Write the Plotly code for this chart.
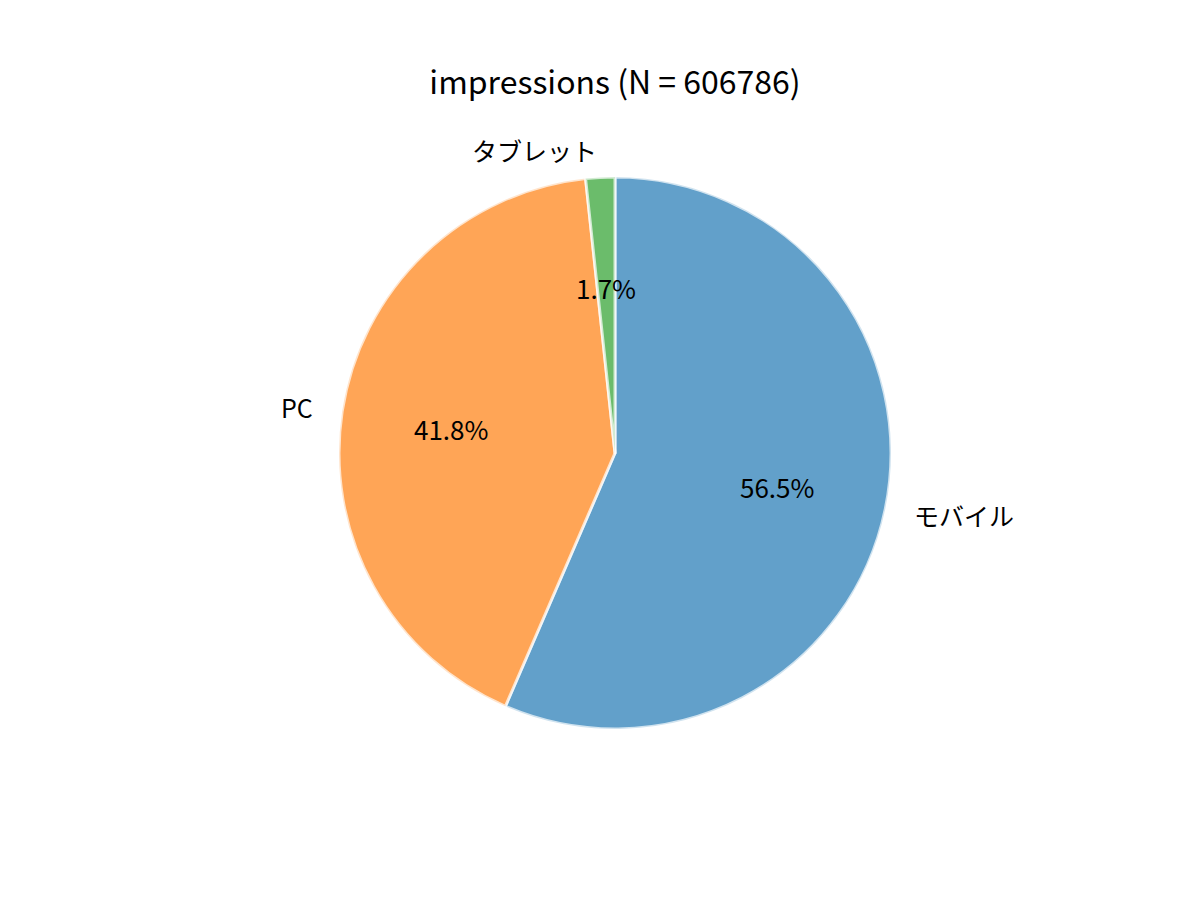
import math

import plotly.graph_objects as go

# data
labels = ["モバイル", "PC", "タブレット"]
counts = [342834, 253637, 10315]
colors = ["#62a0ca", "#ffa556", "#6bbc6b"]
total = sum(counts)
title = f"impressions (N = {total})"

W, H = 1200, 900
FONT = "Noto Sans CJK JP, Noto Sans, sans-serif"
OFF = 8  # browser body margin shifts the plot by this much

# pie placement (matplotlib-like axes)
cx_px, cy_px, r_px = 615 - OFF, 453 - OFF, 276
cx = cx_px / W
cy = 1 - cy_px / H

fig = go.Figure()
fig.add_trace(
    go.Pie(
        labels=labels,
        values=counts,
        sort=False,
        direction="clockwise",
        rotation=0,
        textinfo="none",
        marker=dict(colors=colors, line=dict(color="rgba(255,255,255,0.7)", width=3)),
        domain=dict(
            x=[(cx_px - r_px) / W, (cx_px + r_px) / W],
            y=[1 - (cy_px + r_px) / H, 1 - (cy_px - r_px) / H],
        ),
        showlegend=False,
    )
)

# labels at 1.1 r and percentages at 0.6 r, like matplotlib's autopct
cum = 0
for lab, v in zip(labels, counts):
    frac = v / total
    theta = math.radians(90 - 360 * (cum + frac / 2))
    cum += frac
    dx, dy = math.cos(theta), math.sin(theta)
    fig.add_annotation(
        x=cx + 1.1 * r_px * dx / W,
        y=cy + 1.1 * r_px * dy / H,
        xref="paper",
        yref="paper",
        text=lab,
        showarrow=False,
        xanchor="left" if dx > 0 else "right",
        yanchor="middle",
        font=dict(family=FONT, size=25, color="black"),
    )
    fig.add_annotation(
        x=cx + 0.6 * r_px * dx / W,
        y=cy + 0.6 * r_px * dy / H,
        xref="paper",
        yref="paper",
        text=f"{frac * 100:.1f}%",
        showarrow=False,
        xanchor="center",
        yanchor="middle",
        font=dict(family=FONT, size=26, color="black"),
    )

fig.update_layout(
    width=W,
    height=H,
    margin=dict(l=0, r=0, t=0, b=0),
    paper_bgcolor="white",
    plot_bgcolor="white",
    title=dict(
        text=title,
        x=cx,
        xanchor="center",
        y=1 - (83 - OFF) / H,
        yanchor="middle",
        font=dict(family=FONT, size=32, color="black"),
    ),
)

fig.write_html("out.html")
